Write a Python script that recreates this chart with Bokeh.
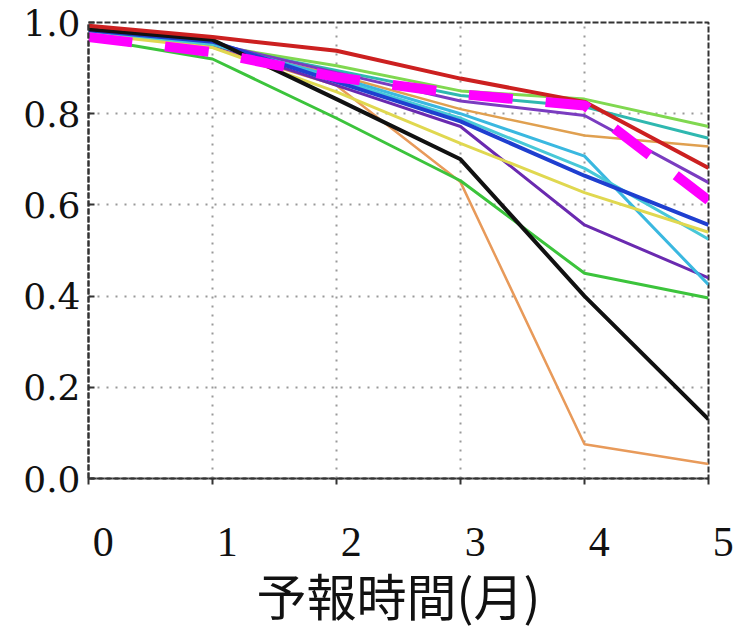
from bokeh.plotting import figure
from bokeh.embed import file_html
from bokeh.resources import INLINE
from bokeh.models import FixedTicker, Range1d

lead = [0, 1, 2, 3, 4, 5]

red = [0.993, 0.968, 0.938, 0.877, 0.826, 0.681]
black = [0.985, 0.962, 0.832, 0.700, 0.400, 0.130]
blue = [0.983, 0.958, 0.870, 0.783, 0.664, 0.556]
orange_low = [0.978, 0.945, 0.862, 0.650, 0.075, 0.032]
green_low = [0.966, 0.920, 0.790, 0.653, 0.450, 0.396]
green_up = [0.978, 0.950, 0.905, 0.850, 0.832, 0.772]
teal = [0.978, 0.950, 0.895, 0.840, 0.815, 0.746]
orange_up = [0.978, 0.948, 0.885, 0.810, 0.752, 0.728]
purple_up = [0.980, 0.955, 0.890, 0.828, 0.796, 0.649]
purple_low = [0.978, 0.952, 0.862, 0.772, 0.556, 0.440]
cyan_a = [0.978, 0.953, 0.880, 0.800, 0.707, 0.425]
cyan_b = [0.978, 0.952, 0.875, 0.790, 0.680, 0.525]
yellow = [0.975, 0.945, 0.848, 0.735, 0.627, 0.540]
magenta = [0.968, 0.935, 0.880, 0.843, 0.818, 0.610]

x_ticks = [0, 1, 2, 3, 4, 5]
y_ticks = [0.0, 0.2, 0.4, 0.6, 0.8, 1.0]
x_title = "予報時間(月)"

p = figure(width=736, height=632, output_backend="svg", toolbar_location=None,
           x_range=Range1d(0, 5), y_range=Range1d(0, 1.0),
           min_border_left=88, min_border_right=28, min_border_top=22,
           min_border_bottom=140)

thin = [
    (orange_low, "#e89a5a", 2.5),
    (green_low, "#3cc43c", 3),
    (green_up, "#80d850", 3),
    (teal, "#2fb8b0", 3),
    (orange_up, "#e0a050", 2.5),
    (purple_up, "#7a3cc0", 3),
    (purple_low, "#6a2ab0", 3),
    (cyan_a, "#3ab8e0", 3),
    (cyan_b, "#48c8d8", 3),
    (yellow, "#e0d850", 3),
]
for ys, c, w in thin:
    p.line(lead, ys, line_color=c, line_width=w)

p.line(lead, blue, line_color="#1f3fd0", line_width=4)
p.line(lead, black, line_color="#111111", line_width=4)
p.line(lead, red, line_color="#cc2020", line_width=4)
p.line(lead, magenta, line_color="#ff00ff", line_width=10, line_dash="44 33")

p.xaxis.ticker = FixedTicker(ticks=x_ticks)
p.yaxis.ticker = FixedTicker(ticks=y_ticks)
p.yaxis.major_label_overrides = {t: f"{t:.1f}" for t in y_ticks}
p.xaxis.major_label_overrides = {t: "\u2002\u2009" + str(t) for t in x_ticks}

p.xgrid.grid_line_color = "#999999"
p.ygrid.grid_line_color = "#999999"
p.xgrid.grid_line_dash = "2 7"
p.ygrid.grid_line_dash = "2 7"
p.xgrid.grid_line_width = 2
p.ygrid.grid_line_width = 2

p.outline_line_color = "#333333"
p.outline_line_width = 2
p.outline_line_dash = "6 2"

for ax in (p.xaxis, p.yaxis):
    ax.axis_line_color = "#333333"
    ax.axis_line_width = 2
    ax.axis_line_dash = "6 2"
    ax.minor_tick_line_color = None
    ax.major_tick_line_color = "#333333"
    ax.major_tick_line_width = 2

p.xaxis.major_tick_out = 6
p.xaxis.major_tick_in = 0
p.yaxis.major_tick_out = 0
p.yaxis.major_tick_in = 6

p.xaxis.major_label_text_font = "Liberation Serif"
p.xaxis.major_label_text_font_size = "42px"
p.xaxis.major_label_text_color = "#111111"
p.xaxis.major_label_standoff = 34

p.yaxis.major_label_text_font = "DejaVu Serif"
p.yaxis.major_label_text_font_size = "36px"
p.yaxis.major_label_text_color = "#111111"
p.yaxis.major_label_standoff = 8

p.xaxis.axis_label = x_title
p.xaxis.axis_label_text_font = "Noto Sans CJK JP"
p.xaxis.axis_label_text_font_size = "50px"
p.xaxis.axis_label_text_font_style = "normal"
p.xaxis.axis_label_text_color = "#111111"
p.xaxis.axis_label_standoff = -10

open("out.html", "w").write(file_html(p, INLINE))
